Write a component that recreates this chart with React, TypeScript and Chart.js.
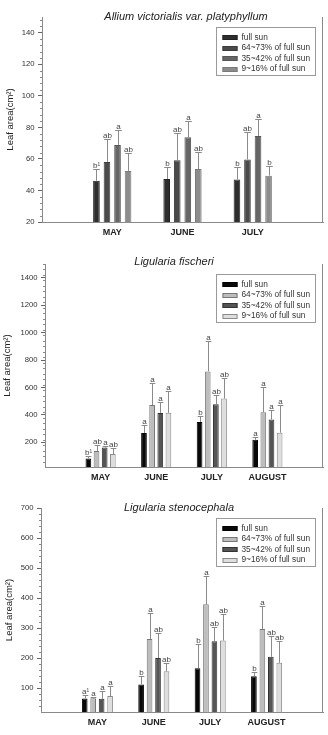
import React, { useEffect, useRef } from 'react';
import { Chart, registerables } from 'chart.js';

Chart.register(...registerables);

const FONT = '"Liberation Sans", Arial, Helvetica, sans-serif';

const treatmentLabels = ['full sun', '64~73% of full sun', '35~42% of full sun', '9~16% of full sun'];
const yAxisTitle = 'Leaf area(cm²)';

// Allium victorialis var. platyphyllum
const alliumMonths = ['MAY', 'JUNE', 'JULY'];
const alliumTicks = [20, 40, 60, 80, 100, 120, 140];
const alliumFullSun = [46.2, 47.3, 47.0];
const alliumFullSunErr = [7.6, 7.6, 7.7];
const allium64 = [58.1, 59.1, 59.7];
const allium64Err = [14.6, 17.4, 17.4];
const allium35 = [68.9, 73.7, 74.6];
const allium35Err = [9.3, 10.4, 11.0];
const allium9 = [52.4, 53.6, 49.4];
const allium9Err = [11.2, 10.8, 5.9];
const alliumFullSunSig = ['b¹', 'b', 'b'];
const allium64Sig = ['ab', 'ab', 'ab'];
const allium35Sig = ['a', 'a', 'a'];
const allium9Sig = ['ab', 'ab', 'b'];

// Ligularia fischeri
const fischeriMonths = ['MAY', 'JUNE', 'JULY', 'AUGUST'];
const fischeriTicks = [200, 400, 600, 800, 1000, 1200, 1400];
const fischeriFullSun = [82, 268, 348, 218];
const fischeriFullSunErr = [18, 57, 43, 22];
const fischeri64 = [136, 472, 717, 419];
const fischeri64Err = [48, 161, 224, 184];
const fischeri35 = [162, 414, 477, 366];
const fischeri35Err = [11, 78, 71, 72];
const fischeri9 = [114, 415, 519, 270];
const fischeri9Err = [41, 162, 150, 203];
const fischeriFullSunSig = ['b¹', 'a', 'b', 'a'];
const fischeri64Sig = ['ab', 'a', 'a', 'a'];
const fischeri35Sig = ['a', 'a', 'ab', 'a'];
const fischeri9Sig = ['ab', 'a', 'ab', 'a'];

// Ligularia stenocephala
const stenoMonths = ['MAY', 'JUNE', 'JULY', 'AUGUST'];
const stenoTicks = [100, 200, 300, 400, 500, 600, 700];
const stenoFullSun = [65, 112, 166, 139];
const stenoFullSunErr = [13, 27, 80, 15];
const steno64 = [66, 263, 379, 297];
const steno64Err = [4, 87, 95, 76];
const steno35 = [64, 200, 256, 204];
const steno35Err = [27, 82, 49, 68];
const steno9 = [73, 156, 258, 184];
const steno9Err = [33, 26, 90, 72];
const stenoFullSunSig = ['a¹', 'b', 'b', 'b'];
const steno64Sig = ['a', 'a', 'a', 'a'];
const steno35Sig = ['a', 'ab', 'ab', 'ab'];
const steno9Sig = ['a', 'ab', 'ab', 'ab'];

type PanelSpec = {
  title: string;
  titleX: number;
  titleBaseline: number;
  months: string[];
  min: number;
  max: number;
  ticks: number[];
  minorStep: number;
  means: number[][];
  errors: number[][];
  sig: string[][];
  fills: string[];
  strokes: string[];
  axisWidth: number;
  padTop: number;
  yTitlePad: number;
  catPct: number;
  barPct: number;
};

const greysDark = ['#2e2e2e', '#4a4a4a', '#666666', '#8c8c8c'];
const greysDarkStroke = ['#222222', '#3c3c3c', '#555555', '#7a7a7a'];
const greysMixed = ['#080808', '#bdbdbd', '#555555', '#dedede'];
const greysMixedStroke = ['#000000', '#777777', '#333333', '#8a8a8a'];

const panels: PanelSpec[] = [
  {
    title: 'Allium victorialis var. platyphyllum',
    titleX: 186,
    titleBaseline: 19.5,
    months: alliumMonths,
    min: 20,
    max: 150,
    ticks: alliumTicks,
    minorStep: 4,
    means: [alliumFullSun, allium64, allium35, allium9],
    errors: [alliumFullSunErr, allium64Err, allium35Err, allium9Err],
    sig: [alliumFullSunSig, allium64Sig, allium35Sig, allium9Sig],
    fills: greysDark,
    strokes: greysDarkStroke,
    axisWidth: 42,
    padTop: 17,
    yTitlePad: 5,
    catPct: 0.6,
    barPct: 0.63,
  },
  {
    title: 'Ligularia fischeri',
    titleX: 174,
    titleBaseline: 19.5,
    months: fischeriMonths,
    min: 20,
    max: 1500,
    ticks: fischeriTicks,
    minorStep: 40,
    means: [fischeriFullSun, fischeri64, fischeri35, fischeri9],
    errors: [fischeriFullSunErr, fischeri64Err, fischeri35Err, fischeri9Err],
    sig: [fischeriFullSunSig, fischeri64Sig, fischeri35Sig, fischeri9Sig],
    fills: greysMixed,
    strokes: greysMixedStroke,
    axisWidth: 45,
    padTop: 19,
    yTitlePad: 2,
    catPct: 0.586,
    barPct: 0.7,
  },
  {
    title: 'Ligularia stenocephala',
    titleX: 179,
    titleBaseline: 20.5,
    months: stenoMonths,
    min: 20,
    max: 700,
    ticks: stenoTicks,
    minorStep: 20,
    means: [stenoFullSun, steno64, steno35, steno9],
    errors: [stenoFullSunErr, steno64Err, steno35Err, steno9Err],
    sig: [stenoFullSunSig, steno64Sig, steno35Sig, steno9Sig],
    fills: greysMixed,
    strokes: greysMixedStroke,
    axisWidth: 41,
    padTop: 18,
    yTitlePad: 3.5,
    catPct: 0.6,
    barPct: 0.67,
  },
];

// Error bars, significance letters, right frame, minor ticks, title and legend box
const decorPlugin = {
  id: 'panelDecor',
  afterDatasetsDraw(chart: any) {
    const ctx = chart.ctx;
    const yScale = chart.scales.y;
    ctx.save();
    chart.data.datasets.forEach((ds: any, di: number) => {
      const meta = chart.getDatasetMeta(di);
      meta.data.forEach((bar: any, j: number) => {
        const v = ds.data[j];
        if (v == null) return;
        const err = ds.errors[j];
        const top = Math.round(yScale.getPixelForValue(v + err)) + 0.5;
        const x = Math.round(bar.x) + 0.5;
        const half = bar.width / 2;
        ctx.strokeStyle = '#8a8a8a';
        ctx.lineWidth = 1;
        ctx.beginPath();
        ctx.moveTo(x, bar.y);
        ctx.lineTo(x, top);
        ctx.moveTo(x - half, top);
        ctx.lineTo(x + half, top);
        ctx.stroke();
        ctx.fillStyle = '#444';
        ctx.font = `8px ${FONT}`;
        ctx.textAlign = 'center';
        ctx.textBaseline = 'alphabetic';
        ctx.fillText(ds.sig[j], x, top - 2);
      });
    });
    ctx.restore();
  },
  afterDraw(chart: any, _args: any, opts: any) {
    const ctx = chart.ctx;
    const area = chart.chartArea;
    const yScale = chart.scales.y;
    ctx.save();

    // right frame line
    ctx.strokeStyle = '#8a8a8a';
    ctx.lineWidth = 1;
    const rx = Math.round(area.right) - 0.5;
    ctx.beginPath();
    ctx.moveTo(rx, area.top);
    ctx.lineTo(rx, area.bottom);
    ctx.stroke();

    // minor ticks on the value axis
    const lx = Math.round(area.left);
    ctx.beginPath();
    for (let v = opts.min + opts.minorStep; v < opts.max + 1e-6; v += opts.minorStep) {
      if (opts.majors.includes(v)) continue;
      const py = Math.round(yScale.getPixelForValue(v)) + 0.5;
      ctx.moveTo(lx - 2, py);
      ctx.lineTo(lx, py);
    }
    ctx.stroke();

    // title
    ctx.fillStyle = '#222';
    ctx.font = `italic 11px ${FONT}`;
    ctx.textAlign = 'center';
    ctx.textBaseline = 'alphabetic';
    ctx.fillText(opts.title, opts.titleX, opts.titleBaseline);

    // legend box
    const bx = Math.round(area.right - 107) + 0.5;
    const by = Math.round(area.top + 9.5) + 0.5;
    const bw = 99;
    const bh = 48;
    ctx.strokeStyle = '#9a9a9a';
    ctx.strokeRect(bx, by, bw, bh);
    ctx.font = `8.3px ${FONT}`;
    ctx.textAlign = 'left';
    ctx.textBaseline = 'middle';
    chart.data.datasets.forEach((ds: any, i: number) => {
      const cy = by + 10 + i * 10.5;
      ctx.fillStyle = ds.backgroundColor;
      ctx.fillRect(bx + 6, Math.round(cy - 2.5), 15, 5);
      ctx.strokeStyle = ds.borderColor;
      ctx.strokeRect(bx + 6.5, Math.round(cy - 2.5) + 0.5, 14, 4);
      ctx.fillStyle = '#333';
      ctx.fillText(ds.label, bx + 25, cy);
    });
    ctx.restore();
  },
};

function ChartPanel({ spec }: { spec: PanelSpec }) {
  const ref = useRef<HTMLCanvasElement | null>(null);

  useEffect(() => {
    if (!ref.current) return;
    const labels = ['', ...spec.months, ''];
    const pad = (arr: any[]) => [null, ...arr, null];
    const chart = new Chart(ref.current, {
      type: 'bar',
      data: {
        labels,
        datasets: treatmentLabels.map((label, i) => ({
          label,
          data: pad(spec.means[i]),
          errors: pad(spec.errors[i]),
          sig: pad(spec.sig[i]),
          backgroundColor: spec.fills[i],
          borderColor: spec.strokes[i],
          borderWidth: 1,
          categoryPercentage: spec.catPct,
          barPercentage: spec.barPct,
        })) as any,
      },
      options: {
        responsive: false,
        animation: false,
        devicePixelRatio: 1,
        layout: { padding: { top: spec.padTop, right: 3, left: 0, bottom: 0 } },
        plugins: {
          legend: { display: false },
          tooltip: { enabled: false },
          panelDecor: {
            title: spec.title,
            titleX: spec.titleX,
            titleBaseline: spec.titleBaseline,
            min: spec.min,
            max: spec.max,
            minorStep: spec.minorStep,
            majors: spec.ticks,
          },
        } as any,
        scales: {
          x: {
            type: 'category',
            offset: false,
            grid: { display: false, drawTicks: false },
            border: { display: true, color: '#8a8a8a', width: 1 },
            ticks: {
              autoSkip: false,
              maxRotation: 0,
              padding: 5,
              color: '#222',
              font: { family: FONT, size: 9, weight: 'bold' },
            },
            afterFit: (scale: any) => {
              scale.height = 23;
            },
          },
          y: {
            type: 'linear',
            min: spec.min,
            max: spec.max,
            afterBuildTicks: (scale: any) => {
              scale.ticks = spec.ticks.map((value) => ({ value }));
            },
            grid: {
              display: true,
              drawOnChartArea: false,
              drawTicks: true,
              tickLength: 4,
              tickColor: '#666',
            },
            border: { display: true, color: '#8a8a8a', width: 1 },
            ticks: {
              padding: 3.5,
              color: '#333',
              font: { family: FONT, size: 7.7 },
              callback: (value: any) => String(value),
            },
            title: {
              display: true,
              text: yAxisTitle,
              color: '#222',
              padding: { top: spec.yTitlePad, bottom: 0 },
              font: { family: FONT, size: 9.5 },
            },
            afterFit: (scale: any) => {
              scale.width = spec.axisWidth;
            },
          },
        },
      } as any,
      plugins: [decorPlugin],
    });
    return () => chart.destroy();
  }, [spec]);

  return <canvas ref={ref} width={328} height={245} style={{ display: 'block', width: 328, height: 245 }} />;
}

export default function App() {
  return (
    <div style={{ position: 'absolute', left: 0, top: 0, width: 328, height: 735, background: '#fff' }}>
      {panels.map((p) => (
        <ChartPanel key={p.title} spec={p} />
      ))}
    </div>
  );
}
